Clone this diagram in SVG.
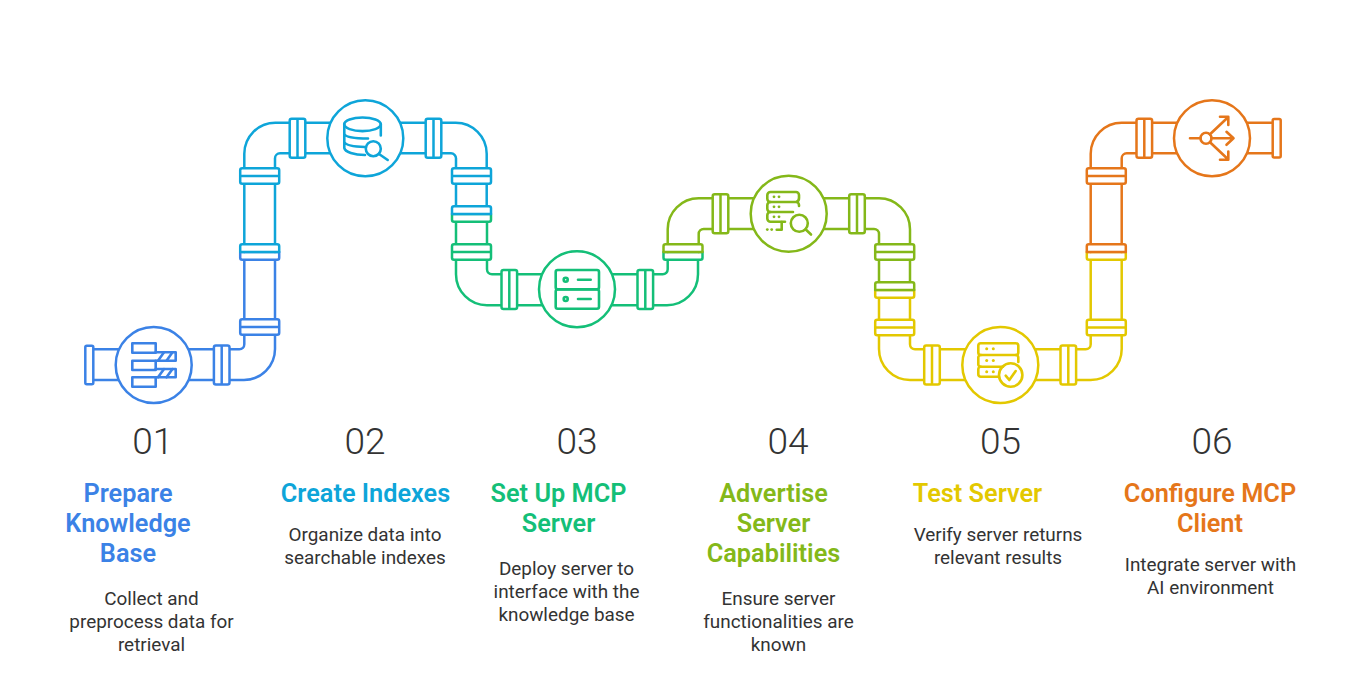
<svg xmlns="http://www.w3.org/2000/svg" width="1358" height="697" viewBox="0 0 1358 697">
<style>
text{font-family:Roboto,"Liberation Sans",sans-serif;text-anchor:middle}
.num{font-size:37px;font-weight:300;fill:#333}
.ttl{font-size:25.300px;font-weight:600}
.dsc{font-size:18.900px;fill:#333}
.s{fill:none;stroke-width:2.500;stroke-linecap:round;stroke-linejoin:round}
.i{stroke-width:2.600}
.f{fill:#fff;stroke-width:2.500;stroke-linejoin:round}
.c1{stroke:#3b82e6}.c2{stroke:#0ea5d9}.c3{stroke:#14bf78}.c4{stroke:#84b819}.c5{stroke:#e3c800}.c6{stroke:#e5761a}
.t1{fill:#3b82e6}.t2{fill:#0ea5d9}.t3{fill:#14bf78}.t4{fill:#84b819}.t5{fill:#e3c800}.t6{fill:#e5761a}
</style>
<defs>
<path id="hfull" d="M-17.500-7.800H17.500a2,2 0 0 1 2,2V5.800a2,2 0 0 1-2,2H-17.500a2,2 0 0 1-2-2V-5.800a2,2 0 0 1 2-2ZM-19.500,0H19.500"/>
<path id="htop" d="M-19.500,0V-5.800a2,2 0 0 1 2-2H17.500a2,2 0 0 1 2,2V0Z"/>
<path id="hbot" d="M-19.500,0V5.800a2,2 0 0 0 2,2H17.500a2,2 0 0 0 2-2V0Z"/>
<path id="vfull" d="M-5.800-19.500H5.800a2,2 0 0 1 2,2V17.500a2,2 0 0 1-2,2H-5.800a2,2 0 0 1-2-2V-17.500a2,2 0 0 1 2-2ZM0-19.500V19.500"/>
<rect id="cap" x="-4" y="-19.300" width="8" height="38.600" rx="1.500"/>
</defs>

<g id="connectors">
<g id="pipe-1">
<path class="s c1" d="M93,349.300H239.300a5,5 0 0 0 5-5V252M93,380H244a31,31 0 0 0 31-31V252"/>
<use href="#cap" x="89.300" y="365" class="f c1"/>
<use href="#vfull" x="221.700" y="365" class="f c1"/>
<use href="#hfull" x="259.700" y="327" class="f c1"/>
<use href="#hbot" x="259.700" y="252" class="f c1"/>
</g>
<g id="pipe-2">
<path class="s c2" d="M244.300,252V153.700a31,31 0 0 1 31-31H455.700a31,31 0 0 1 31,31V214M275,252V158.300a5,5 0 0 1 5-5H451a5,5 0 0 1 5,5V214"/>
<use href="#vfull" x="297.500" y="138.300" class="f c2"/>
<use href="#vfull" x="433.500" y="138.300" class="f c2"/>
<use href="#hfull" x="259.700" y="176" class="f c2"/>
<use href="#hfull" x="471.500" y="176" class="f c2"/>
<use href="#htop" x="259.700" y="252" class="f c2"/>
</g>
<g id="pipe-3">
<path class="s c3" d="M456,214V274.300a31,31 0 0 0 31,31H667a31,31 0 0 0 31-31V252M487,214V269.300a5,5 0 0 0 5,5H662.700a5,5 0 0 0 5-5V252"/>
<use href="#hbot" x="471.500" y="214" class="f c3"/>
<use href="#hfull" x="471.500" y="252" class="f c3"/>
<use href="#vfull" x="509.300" y="289.500" class="f c3"/>
<use href="#vfull" x="645.300" y="289.500" class="f c3"/>
<use href="#hbot" x="683" y="252" class="f c3"/>
</g>
<g id="pipe-2-end"><use href="#htop" x="471.500" y="214" class="f c2"/></g>
<g id="pipe-4">
<path class="s c4" d="M667.700,252V229.300a31,31 0 0 1 31-31H879a31,31 0 0 1 31,31V290M698.700,252V234a5,5 0 0 1 5-5H874a5,5 0 0 1 5,5V290"/>
<use href="#htop" x="683" y="252" class="f c4"/>
<use href="#vfull" x="720.500" y="213.700" class="f c4"/>
<use href="#vfull" x="857" y="213.700" class="f c4"/>
<use href="#hfull" x="894.700" y="252" class="f c4"/>
</g>
<g id="pipe-5">
<path class="s c5" d="M879,290V349a31,31 0 0 0 31,31H1090.700a31,31 0 0 0 31-31V252M910,290V344.300a5,5 0 0 0 5,5H1085.700a5,5 0 0 0 5-5V252"/>
<use href="#hbot" x="894.700" y="290" class="f c5"/>
<use href="#hfull" x="894.700" y="327.500" class="f c5"/>
<use href="#vfull" x="932" y="365" class="f c5"/>
<use href="#vfull" x="1068.300" y="365" class="f c5"/>
<use href="#hfull" x="1106.300" y="327.500" class="f c5"/>
<use href="#hbot" x="1106.300" y="252" class="f c5"/>
</g>
<g id="pipe-4-end"><use href="#htop" x="894.700" y="290" class="f c4"/></g>
<g id="pipe-6">
<path class="s c6" d="M1090.700,252V153.700a31,31 0 0 1 31-31H1273M1121.700,252V158.300a5,5 0 0 1 5-5H1273"/>
<use href="#htop" x="1106.300" y="252" class="f c6"/>
<use href="#hfull" x="1106.300" y="176" class="f c6"/>
<use href="#vfull" x="1144.300" y="138.300" class="f c6"/>
<use href="#cap" x="1276.700" y="138.300" class="f c6"/>
</g>
</g>

<g id="node-1">
<circle cx="153.700" cy="365" r="38" class="f c1"/>
<g class="s i c1">
<path d="M155.700,352.300H175.700V360.700H155.700M155.700,369H175.700V377.300H155.700"/>
<path d="M158,360.700L164,352.300M166.500,360.700L172.500,352.300M158,377.300L164,369M166.500,377.300L172.500,369"/>
<rect x="132.300" y="343.300" width="23.400" height="9.500"/>
<rect x="132.300" y="360.700" width="23.400" height="9.300"/>
<rect x="132.300" y="377.300" width="23.400" height="9.400"/>
</g>
<text class="num" x="152.800" y="454">01</text>
<text class="ttl t1" x="128" y="502">Prepare</text>
<text class="ttl t1" x="128" y="532">Knowledge</text>
<text class="ttl t1" x="128" y="562">Base</text>
<text class="dsc" x="151.500" y="605">Collect and</text>
<text class="dsc" x="151.500" y="628">preprocess data for</text>
<text class="dsc" x="151.500" y="651">retrieval</text>
</g>

<g id="node-2">
<circle cx="365.300" cy="138.300" r="38" class="f c2"/>
<g class="s i c2">
<ellipse cx="362.500" cy="124.300" rx="18.300" ry="6.800"/>
<path d="M344.300,124.300V148C345,152 354,155 365,155M344.300,134C346,137.500 356,138.500 368,138.500M344.300,142C346,145.500 356,146.800 365,147M380.800,124.300V135.500"/>
<circle cx="373.300" cy="148.700" r="7.500"/>
<path d="M379,154L387.700,160"/>
</g>
<text class="num" x="365" y="454">02</text>
<text class="ttl t2" x="365.500" y="502">Create Indexes</text>
<text class="dsc" x="365" y="541">Organize data into</text>
<text class="dsc" x="365" y="564">searchable indexes</text>
</g>

<g id="node-3">
<circle cx="577" cy="289.300" r="38" class="f c3"/>
<g class="s i c3">
<rect x="555.700" y="270" width="43.300" height="19.300" rx="2"/>
<rect x="555.700" y="289.500" width="43.300" height="19.300" rx="2"/>
<circle cx="565.700" cy="279.700" r="2"/>
<circle cx="565.700" cy="299" r="2"/>
<path d="M578,279.700H590.700M578,299H590.700"/>
</g>
<text class="num" x="577" y="454">03</text>
<text class="ttl t3" x="558.500" y="502">Set Up MCP</text>
<text class="ttl t3" x="558.500" y="532">Server</text>
<text class="dsc" x="566.500" y="575">Deploy server to</text>
<text class="dsc" x="566.500" y="598">interface with the</text>
<text class="dsc" x="566.500" y="621">knowledge base</text>
</g>

<g id="node-4">
<circle cx="788.700" cy="213.700" r="38" class="f c4"/>
<g class="s i c4">
<path d="M796,202H770.500a3.200,3.200 0 0 1-3.200-3.200V195.200a3.200,3.200 0 0 1 3.200-3.200H796a3,3 0 0 1 3,3V198a4,4 0 0 1-3,4V202a3,3 0 0 1 3,3V206"/>
<path d="M770.500,202a3.200,3.200 0 0 0-3.200,3.200V208.800a3.200,3.200 0 0 0 3.200,3.200H793"/>
<path d="M770.500,212a3.200,3.200 0 0 0-3.200,3.200V218.500a3.200,3.200 0 0 0 3.200,3.200H785"/>
<path d="M776.700,229.800H781.700V222"/>
<circle cx="799.300" cy="223.300" r="8.500"/>
<path d="M805.500,229.300L811,234.500"/>
</g>
<g class="t4">
<circle cx="774" cy="196.800" r="1.400"/><circle cx="779" cy="196.800" r="1.400"/>
<circle cx="774" cy="206.800" r="1.400"/><circle cx="779" cy="206.800" r="1.400"/>
<circle cx="774" cy="216.800" r="1.400"/><circle cx="779" cy="216.800" r="1.400"/>
<circle cx="767.300" cy="229.600" r="1.400"/><circle cx="771.700" cy="229.600" r="1.400"/>
</g>
<text class="num" x="788" y="454">04</text>
<text class="ttl t4" x="773.500" y="502">Advertise</text>
<text class="ttl t4" x="773.500" y="532">Server</text>
<text class="ttl t4" x="773.500" y="562">Capabilities</text>
<text class="dsc" x="778.500" y="605">Ensure server</text>
<text class="dsc" x="778.500" y="628">functionalities are</text>
<text class="dsc" x="778.500" y="651">known</text>
</g>

<g id="node-5">
<circle cx="1000.300" cy="365" r="38" class="f c5"/>
<g class="s i c5">
<rect x="978.300" y="343.300" width="40" height="11.700" rx="2.500"/>
<path d="M981,355a2.500,2.500 0 0 0-2.700,2.500V364a2.500,2.500 0 0 0 2.700,2.700H1003M1015.800,355a2.500,2.500 0 0 1 2.500,2.500V362"/>
<path d="M981,366.700a2.500,2.500 0 0 0-2.700,2.500V374a2.500,2.500 0 0 0 2.700,2.700H998"/>
<circle cx="1010.700" cy="375" r="11.700"/>
<path d="M1005.700,375.700L1009.300,380L1015.700,371"/>
</g>
<g class="t5">
<circle cx="986.700" cy="348.800" r="1.500"/><circle cx="993.300" cy="348.800" r="1.500"/>
<circle cx="986.700" cy="360.500" r="1.500"/><circle cx="993.300" cy="360.500" r="1.500"/>
<circle cx="986.700" cy="371.700" r="1.500"/><circle cx="993.300" cy="371.700" r="1.500"/>
</g>
<text class="num" x="1000.500" y="454">05</text>
<text class="ttl t5" x="977.500" y="502">Test Server</text>
<text class="dsc" x="998" y="541">Verify server returns</text>
<text class="dsc" x="998" y="564">relevant results</text>
</g>

<g id="node-6">
<circle cx="1212" cy="138.300" r="38" class="f c6"/>
<g class="s i c6">
<circle cx="1206" cy="138.300" r="5.500"/>
<path d="M1190,138.300H1200.500M1211.500,138.300H1233.500M1226.500,131.800L1233.500,138.300L1226.500,144.800"/>
<path d="M1210,134.300L1228,117.300M1220,116.800H1228.300V125"/>
<path d="M1210,142.300L1228,159.300M1220,159.800H1228.300V151.500"/>
</g>
<text class="num" x="1212" y="454">06</text>
<text class="ttl t6" x="1210" y="502">Configure MCP</text>
<text class="ttl t6" x="1210" y="532">Client</text>
<text class="dsc" x="1210.500" y="571">Integrate server with</text>
<text class="dsc" x="1210.500" y="594">AI environment</text>
</g>
</svg>
